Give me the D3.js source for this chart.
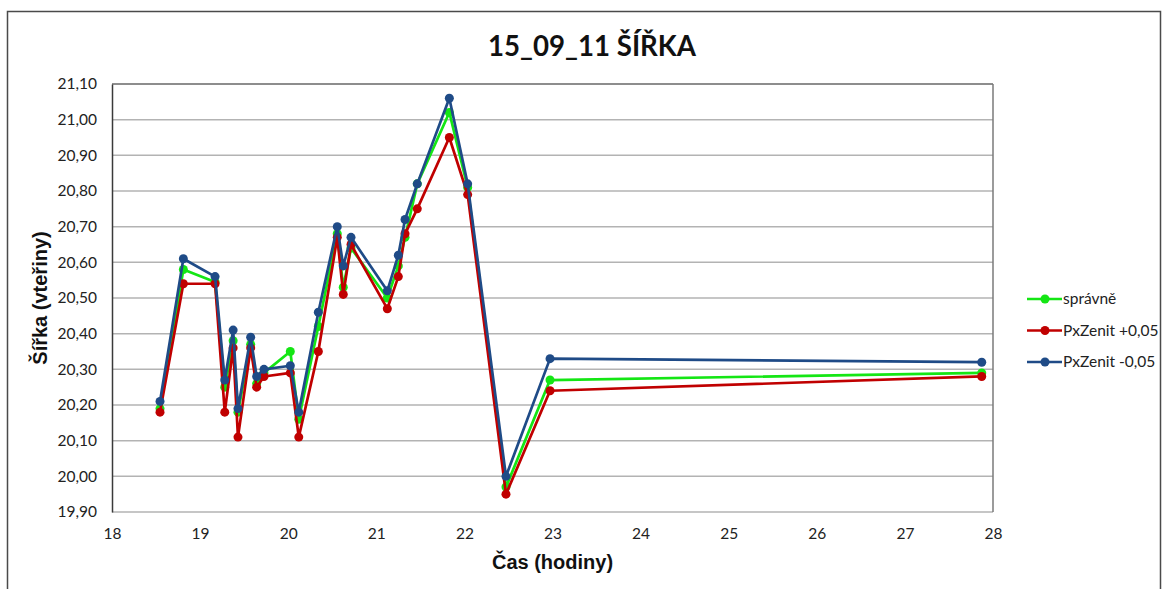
<!DOCTYPE html>
<html>
<head>
<meta charset="utf-8">
<script src="https://cdn.jsdelivr.net/npm/d3@7"></script>
<style>
  html, body { margin: 0; padding: 0; background: #fff; }
  svg { display: block; }
</style>
</head>
<body>
<svg id="chart" width="1167" height="589"></svg>
<script>
// Time of each measurement (hours)
const times = [18.545, 18.81, 19.17, 19.28, 19.375, 19.43, 19.574, 19.642, 19.725, 20.024, 20.12, 20.342,
               20.557, 20.625, 20.713, 21.125, 21.25, 21.326, 21.465, 21.829, 22.037, 22.472, 22.972, 27.872];

// Latitude (arc seconds) for each variant
const spravne   = [20.19, 20.58, 20.545, 20.25, 20.38, 20.18, 20.37, 20.26, 20.29, 20.35, 20.16, 20.42,
                   20.68, 20.53, 20.64, 20.50, 20.59, 20.67, 20.82, 21.02, 20.81, 19.97, 20.27, 20.29];
const zenitPlus = [20.18, 20.54, 20.54, 20.18, 20.36, 20.11, 20.36, 20.25, 20.28, 20.29, 20.11, 20.35,
                   20.67, 20.51, 20.65, 20.47, 20.56, 20.68, 20.75, 20.95, 20.79, 19.95, 20.24, 20.28];
const zenitMinus = [20.21, 20.61, 20.56, 20.27, 20.41, 20.19, 20.39, 20.28, 20.30, 20.31, 20.18, 20.46,
                    20.70, 20.59, 20.67, 20.52, 20.62, 20.72, 20.82, 21.06, 20.82, 20.00, 20.33, 20.32];

const seriesNames = ["správně", "PxZenit +0,05", "PxZenit -0,05"];
const seriesColors = ["#14e614", "#c00000", "#1f4b87"];
const seriesValues = [spravne, zenitPlus, zenitMinus];

const xTicks = [18, 19, 20, 21, 22, 23, 24, 25, 26, 27, 28];
const yTicks = [19.9, 20.0, 20.1, 20.2, 20.3, 20.4, 20.5, 20.6, 20.7, 20.8, 20.9, 21.0, 21.1];

const svg = d3.select("#chart");
const plot = { left: 112, right: 993, top: 84, bottom: 512 };

const x = d3.scaleLinear().domain([18, 28]).range([plot.left, plot.right]);
const y = d3.scaleLinear().domain([19.9, 21.1]).range([plot.bottom, plot.top]);

const fmt = v => d3.format(".2f")(v).replace(".", ",");
const tickFont = "Lato, 'Open Sans', sans-serif";

// Outer chart frame
svg.append("path")
  .attr("d", "M7.5,600 L7.5,11.5 L1160.5,11.5 L1160.5,600")
  .attr("fill", "none").attr("stroke", "#4a4a4a").attr("stroke-width", 1.5);

// Horizontal gridlines
svg.append("g").selectAll("line").data(yTicks).join("line")
  .attr("x1", plot.left).attr("x2", plot.right)
  .attr("y1", d => y(d)).attr("y2", d => y(d))
  .attr("stroke", "#b3b3b3").attr("stroke-width", 1.5);

// Plot area border (top and right)
svg.append("line").attr("x1", plot.left).attr("x2", plot.right)
  .attr("y1", plot.top).attr("y2", plot.top).attr("stroke", "#7a7a7a").attr("stroke-width", 1.5);
svg.append("line").attr("x1", plot.right).attr("x2", plot.right)
  .attr("y1", plot.top).attr("y2", plot.bottom).attr("stroke", "#7a7a7a").attr("stroke-width", 1.5);

// Y axis
const yAxis = d3.axisLeft(y).tickValues(yTicks).tickFormat(fmt).tickSize(0).tickPadding(15);
const gy = svg.append("g").attr("transform", `translate(${plot.left},0)`).call(yAxis);
gy.select(".domain").attr("stroke", "#3a3a3a").attr("stroke-width", 1.5);
gy.selectAll("text").attr("font-family", tickFont).attr("font-size", 15.5).attr("fill", "#222");

// X axis
const xAxis = d3.axisBottom(x).tickValues(xTicks).tickFormat(d3.format("d")).tickSize(0).tickPadding(16);
const gx = svg.append("g").attr("transform", `translate(0,${plot.bottom})`).call(xAxis);
gx.select(".domain").remove();
gx.selectAll("text").attr("font-family", tickFont).attr("font-size", 15.5).attr("fill", "#222");

// Series lines and markers
const line = d3.line().x((d, i) => x(times[i])).y(d => y(d));
seriesValues.forEach((vals, s) => {
  const g = svg.append("g");
  g.append("path").datum(vals)
    .attr("d", line)
    .attr("fill", "none")
    .attr("stroke", seriesColors[s])
    .attr("stroke-width", 2.7)
    .attr("stroke-linejoin", "round");
  g.selectAll("circle").data(vals).join("circle")
    .attr("cx", (d, i) => x(times[i]))
    .attr("cy", d => y(d))
    .attr("r", 4.5)
    .attr("fill", seriesColors[s]);
});

// Title
svg.append("text")
  .attr("x", 592).attr("y", 56)
  .attr("text-anchor", "middle")
  .attr("font-family", "Lato, 'Open Sans', sans-serif")
  .attr("font-weight", "bold")
  .attr("font-size", 28)
  .attr("fill", "#111")
  .attr("textLength", 208).attr("lengthAdjust", "spacingAndGlyphs")
  .text("15_09_11 ŠÍŘKA");

// Axis titles
svg.append("text")
  .attr("x", (plot.left + plot.right) / 2).attr("y", 569)
  .attr("text-anchor", "middle")
  .attr("font-family", "'Liberation Sans', Arial, sans-serif")
  .attr("font-weight", "bold").attr("font-size", 20).attr("fill", "#111")
  .text("Čas (hodiny)");

svg.append("text")
  .attr("transform", `translate(47,${(plot.top + plot.bottom) / 2}) rotate(-90)`)
  .attr("text-anchor", "middle")
  .attr("font-family", "'Liberation Sans', Arial, sans-serif")
  .attr("font-weight", "bold").attr("font-size", 20).attr("fill", "#111")
  .text("Šířka (vteřiny)");

// Legend
const legendTop = 299, legendStep = 31.5;
const lg = svg.append("g");
seriesNames.forEach((name, s) => {
  const ly = legendTop + s * legendStep;
  lg.append("line").attr("x1", 1027).attr("x2", 1062).attr("y1", ly).attr("y2", ly)
    .attr("stroke", seriesColors[s]).attr("stroke-width", 2.7);
  lg.append("circle").attr("cx", 1045).attr("cy", ly).attr("r", 4.5).attr("fill", seriesColors[s]);
  lg.append("text").attr("x", 1063).attr("y", ly).attr("dy", "0.35em")
    .attr("font-family", tickFont).attr("font-size", 15.5).attr("fill", "#222")
    .text(name);
});
</script>
</body>
</html>
